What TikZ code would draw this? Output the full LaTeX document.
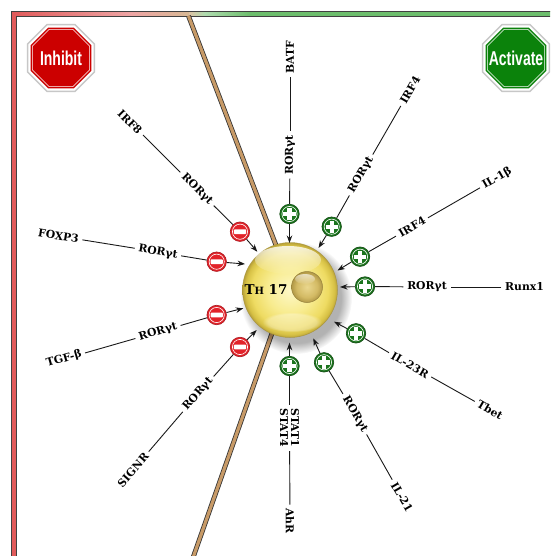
\documentclass[tikz,border=0pt]{standalone}
\usepackage{fontspec}
\usepackage{graphicx}
\setmainfont{DejaVu Serif}[BoldFont={DejaVu Serif Bold}]
\newfontfamily\signfont{Liberation Sans}[BoldFont={Liberation Sans Bold}]
\usetikzlibrary{arrows.meta,fadings}

\definecolor{inhred}{HTML}{E2232A}
\definecolor{actgreen}{HTML}{1B741D}
\definecolor{signred}{HTML}{CC0000}
\definecolor{signgreen}{HTML}{0B820B}
\definecolor{bandred}{HTML}{E05A5A}
\definecolor{bandgreen}{HTML}{6DBE6D}
\definecolor{tanc}{HTML}{C79A67}
\definecolor{cellA}{HTML}{FDF8C8}
\definecolor{cellB}{HTML}{F8EC90}
\definecolor{cellC}{HTML}{EEDB62}
\definecolor{cellD}{HTML}{D6C044}
\definecolor{cellE}{HTML}{B7A03A}
\definecolor{nucA}{HTML}{EAD78E}
\definecolor{nucB}{HTML}{D3BA64}
\definecolor{nucC}{HTML}{B19846}

\pgfdeclareradialshading{cellbody}{\pgfpointorigin}{color(0bp)=(cellA); color(12bp)=(cellB); color(20bp)=(cellC); color(23.5bp)=(cellD); color(25bp)=(cellE); color(50bp)=(cellE)}
\pgfdeclareradialshading{nucbody}{\pgfpointorigin}{color(0bp)=(nucA); color(17bp)=(nucB); color(25bp)=(nucC); color(50bp)=(nucC)}
\tikzfading[name=glowfade, top color=transparent!20, bottom color=transparent!100]

\newcommand\lblfont{\fontsize{10.8}{11}\selectfont\bfseries}

\tikzset{
  lbl/.style={font=\lblfont, inner xsep=3.6pt, inner ysep=0.5pt},
  conn/.style={draw=black!90, line width=0.9pt},
  arr/.style={conn, -{Stealth[length=7.5pt,width=5.5pt]}},
  badge/.style={circle, minimum size=19.5pt, inner sep=0pt, line width=0.6pt},
  minusbadge/.style={badge, fill=inhred, draw=inhred!75!black,
    path picture={
      \draw[white, line width=0.6pt] (path picture bounding box.center) circle[radius=7.6pt];
      \fill[white, rounded corners=0.8pt]
        ([xshift=-6.2pt,yshift=-2.3pt]path picture bounding box.center) rectangle
        ([xshift=6.2pt,yshift=2.3pt]path picture bounding box.center);
    }},
  plusbadge/.style={badge, fill=actgreen, draw=actgreen!65!black,
    path picture={
      \draw[white, line width=0.6pt] (path picture bounding box.center) circle[radius=7.6pt];
      \fill[white]
        ([xshift=-6.2pt,yshift=-2.2pt]path picture bounding box.center) rectangle
        ([xshift=6.2pt,yshift=2.2pt]path picture bounding box.center);
      \fill[white]
        ([xshift=-2.2pt,yshift=-6.2pt]path picture bounding box.center) rectangle
        ([xshift=2.2pt,yshift=6.2pt]path picture bounding box.center);
    }},
  pics/stopsign/.style 2 args={code={
    \fill[black!22] plot[samples at={22.5,67.5,...,337.5}] (\x:37pt) -- cycle;
    \fill[white] plot[samples at={22.5,67.5,...,337.5}] (\x:35.3pt) -- cycle;
    \fill[#1] plot[samples at={22.5,67.5,...,337.5}] (\x:33pt) -- cycle;
    \draw[white, line width=0.5pt] plot[samples at={22.5,67.5,...,337.5}] (\x:31pt) -- cycle;
    \node[text=white, font=\signfont\bfseries\fontsize{20}{20}\selectfont, inner sep=0pt]
      (-txt) at (0,0) {\scalebox{0.7}[1]{#2}};
  }},
}

\begin{document}
\begin{tikzpicture}[x=1pt,y=-1pt]
\useasboundingbox (0,0) rectangle (550,556);
\clip (0,0) rectangle (550,556);
\fill[white] (0,0) rectangle (550,556);

% frame bands
\fill[bandred] (11.5,11.5) rectangle (16,560);
\shade[left color=bandred, right color=bandred!55!white] (11.5,11.5) rectangle (130,16);
\shade[left color=bandred!55!white, right color=tanc!70!white] (130,11.5) rectangle (189,16);
\shade[left color=tanc!60!white, right color=bandgreen!55!white] (189,11.5) rectangle (205,16);
\shade[left color=bandgreen!55!white, right color=bandgreen] (205,11.5) rectangle (250,16);
\fill[bandgreen] (250,11.5) rectangle (560,16);
\draw[black!75, line width=0.8pt] (11.5,560) -- (11.5,11.5) -- (560,11.5);
\draw[black!75, line width=0.8pt] (16,560) -- (16,16) -- (560,16);

% membrane boundary between the two halves
\draw[black!80, line width=4.8pt] (188.5,16) -- (290,282) -- (191.5,562);
\draw[tanc, line width=3.2pt] (188.5,16) -- (290,282) -- (191.5,562);

% cell: shadow, body, highlight
\fill[black, opacity=0.3, path fading=circle with fuzzy edge 20 percent] (296,298) circle[radius=56pt];
\shade[shading=cellbody] (290,290) circle[radius=47.5pt];
\draw[cellE!85!black, line width=0.5pt, opacity=0.6] (290,290) circle[radius=47.5pt];
\fill[white, path fading=glowfade] (288,260) ellipse[x radius=33pt, y radius=14pt];
\fill[white, opacity=0.3, path fading=circle with fuzzy edge 20 percent] (292,322) ellipse[x radius=30pt, y radius=10pt];

% nucleus
\shade[shading=nucbody] (307,287) circle[radius=15.5pt];
\draw[nucC!85!black, line width=0.5pt] (307,287) circle[radius=15.5pt];
\fill[white, path fading=glowfade, opacity=0.8] (305,279) ellipse[x radius=10pt, y radius=5pt];

\node[font=\bfseries\fontsize{13.5}{13.5}\selectfont, inner sep=0pt] (th17) at (266,289)
  {T{\fontsize{10}{10}\selectfont H} 17};

% ---- activating inputs ----
% BATF
\node[lbl, rotate=90] (batf) at (290,57) {BATF};
\node[lbl, rotate=90] (batfm) at (290,155) {RORγt};
\node[plusbadge] (batfb) at (289.5,214) {};
\coordinate (batft) at (289.5,243);
\draw[conn] (batf) -- (batfm);
\draw[conn] (batfm) -- (batfb);
\draw[arr] (batfb) -- (batft);

% IRF4 (upper)
\node[lbl, rotate=60] (irfa) at (410,90) {IRF4};
\node[lbl, rotate=60] (irfam) at (361,175) {RORγt};
\node[plusbadge] (irfab) at (331.7,226.7) {};
\coordinate (irfat) at (318.5,248);
\draw[conn] (irfa) -- (irfam);
\draw[conn] (irfam) -- (irfab);
\draw[arr] (irfab) -- (irfat);

% IL-1beta
\node[lbl, rotate=30] (ilb) at (497,178) {IL-1β};
\node[lbl, rotate=30] (ilbm) at (412,227) {IRF4};
\node[plusbadge] (ilbb) at (360,256.7) {};
\coordinate (ilbt) at (337.5,270.5);
\draw[conn] (ilb) -- (ilbm);
\draw[conn] (ilbm) -- (ilbb);
\draw[arr] (ilbb) -- (ilbt);

% Runx1
\node[lbl] (runx) at (524.5,287) {Runx1};
\node[lbl] (runxm) at (427,287) {RORγt};
\node[plusbadge] (runxb) at (365,286.5) {};
\coordinate (runxt) at (340,287);
\draw[conn] (runx) -- (runxm);
\draw[conn] (runxm) -- (runxb);
\draw[arr] (runxb) -- (runxt);

% Tbet
\node[lbl, rotate=-30] (tbet) at (490,410) {Tbet};
\node[lbl, rotate=-30] (tbetm) at (410,365) {IL-23R};
\node[plusbadge] (tbetb) at (356,333.3) {};
\coordinate (tbett) at (334,321.7);
\draw[conn] (tbet) -- (tbetm);
\draw[conn] (tbetm) -- (tbetb);
\draw[arr] (tbetb) -- (tbett);

% IL-21
\node[lbl, rotate=-60] (ilt) at (402,497) {IL-21};
\node[lbl, rotate=-60] (iltm) at (355,414) {RORγt};
\node[plusbadge] (iltb) at (324,362.3) {};
\coordinate (iltt) at (313.3,338.3);
\draw[conn] (ilt) -- (iltm);
\draw[conn] (iltm) -- (iltb);
\draw[arr] (iltb) -- (iltt);

% AhR
\node[lbl, rotate=-90] (ahr) at (290,521) {AhR};
\node[lbl, rotate=-90, align=center] (ahrm) at (289.5,428) {STAT1\\STAT4};
\node[plusbadge] (ahrb) at (289.5,366) {};
\coordinate (ahrt) at (289.5,342.7);
\draw[conn] (ahr) -- (ahrm);
\draw[conn] (ahrm) -- (ahrb);
\draw[arr] (ahrb) -- (ahrt);

% ---- inhibiting inputs ----
% IRF8
\node[lbl, rotate=-45] (irf8) at (130,122) {IRF8};
\node[lbl, rotate=-45] (irf8m) at (197,189) {RORγt};
\node[minusbadge] (irf8b) at (240,231.7) {};
\coordinate (irf8t) at (257.3,251.7);
\draw[conn] (irf8) -- (irf8m);
\draw[conn] (irf8m) -- (irf8b);
\draw[arr] (irf8b) -- (irf8t);

% FOXP3
\node[lbl, rotate=-9] (foxp) at (58.5,236) {FOXP3};
\node[lbl, rotate=-9] (foxpm) at (158,252) {RORγt};
\node[minusbadge] (foxpb) at (216.7,261.7) {};
\coordinate (foxpt) at (245,264);
\draw[conn] (foxp) -- (foxpm);
\draw[conn] (foxpm) -- (foxpb);
\draw[arr] (foxpb) -- (foxpt);

% TGF-beta
\node[lbl, rotate=16] (tgf) at (64,359) {TGF-β};
\node[lbl, rotate=16] (tgfm) at (158,332) {RORγt};
\node[minusbadge] (tgfb) at (216.7,315) {};
\coordinate (tgft) at (243.3,308.3);
\draw[conn] (tgf) -- (tgfm);
\draw[conn] (tgfm) -- (tgfb);
\draw[arr] (tgfb) -- (tgft);

% SIGNR
\node[lbl, rotate=49] (signr) at (133,470) {SIGNR};
\node[lbl, rotate=49] (signrm) at (198,394) {RORγt};
\node[minusbadge] (signrb) at (240,347) {};
\coordinate (signrt) at (256.7,330);
\draw[conn] (signr) -- (signrm);
\draw[conn] (signrm) -- (signrb);
\draw[arr] (signrb) -- (signrt);

% stop signs
\pic (inh) at (61,58) {stopsign={signred}{Inhibit}};
\pic (act) at (516,58) {stopsign={signgreen}{Activate}};
\end{tikzpicture}
\end{document}
